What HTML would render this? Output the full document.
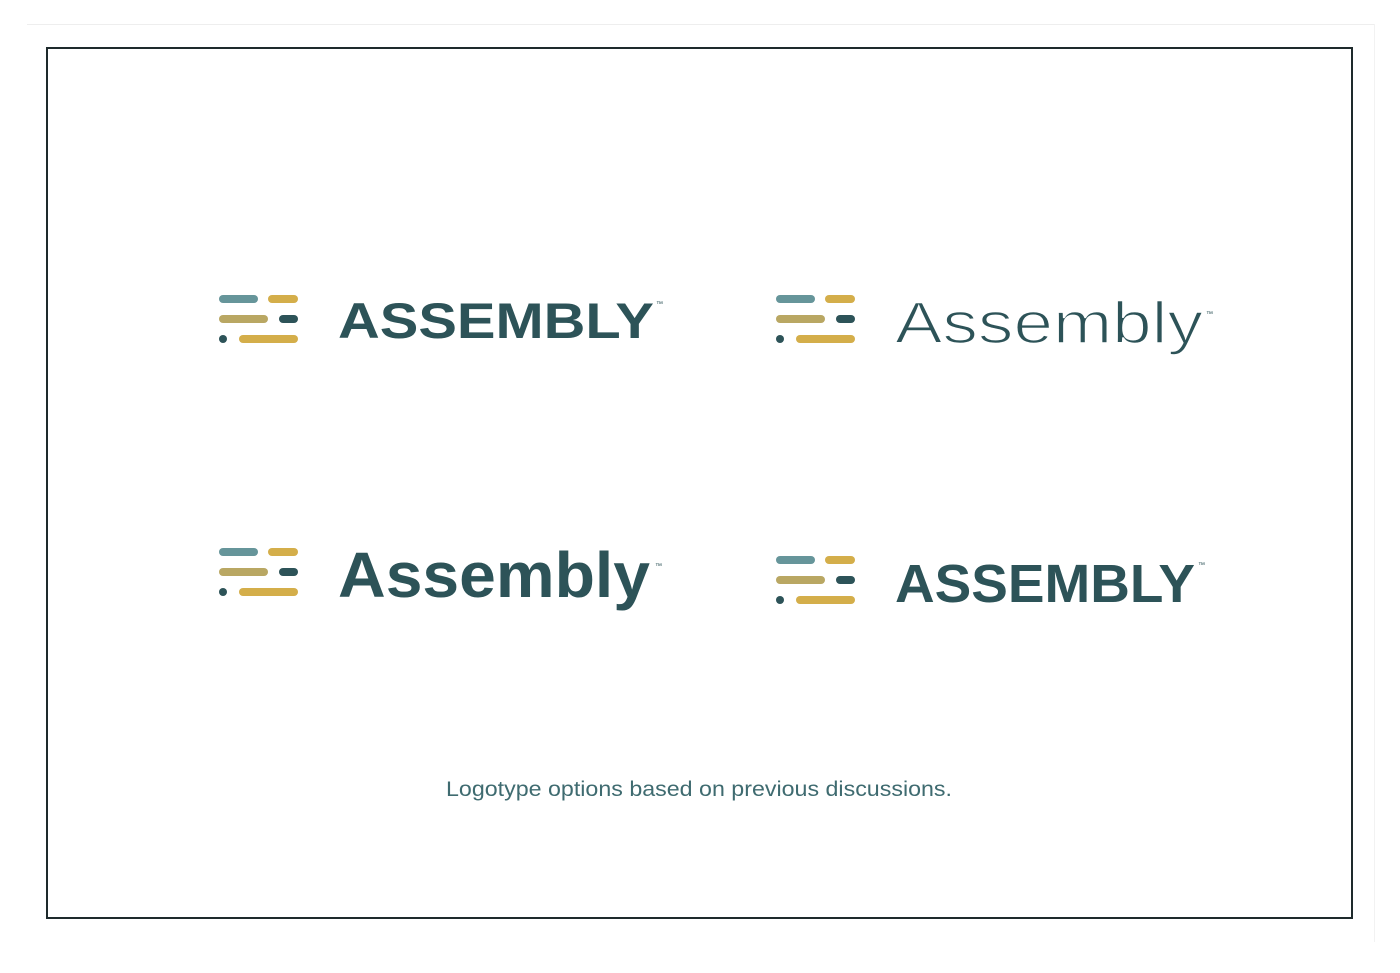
<!DOCTYPE html>
<html><head><style>body{margin:0;background:#fff}</style></head><body>
<svg width="1400" height="968" viewBox="0 0 1400 968" xmlns="http://www.w3.org/2000/svg">
<rect width="1400" height="968" fill="#fff"/>
<line x1="27" y1="24.5" x2="1375" y2="24.5" stroke="#eeeeee" stroke-width="1"/>
<line x1="1374.5" y1="24" x2="1374.5" y2="942" stroke="#f2f2f2" stroke-width="1"/>
<rect x="47" y="48" width="1305" height="870" fill="#fff" stroke="#1e2a2c" stroke-width="2"/>
<defs>
<g id="ic">
<rect x="0" y="0" width="39" height="8" rx="4" fill="#66959a"/>
<rect x="49" y="0" width="30" height="8" rx="4" fill="#d4ae4a"/>
<rect x="0" y="20" width="49" height="8" rx="4" fill="#b9a763"/>
<rect x="60" y="20" width="19" height="8" rx="4" fill="#2d5358"/>
<circle cx="4" cy="44" r="4" fill="#2d5358"/>
<rect x="20" y="40" width="59" height="8" rx="4" fill="#d4ae4a"/>
</g>
</defs>
<use href="#ic" x="219" y="295"/>
<use href="#ic" x="776" y="295"/>
<use href="#ic" x="219" y="548"/>
<use href="#ic" x="776" y="556"/>
<g fill="#2d5358" font-family="Liberation Sans, sans-serif">
<text x="338" y="338" font-size="50" font-weight="bold" textLength="316" lengthAdjust="spacingAndGlyphs">ASSEMBLY</text>
<text x="656" y="306" font-size="7">™</text>
<text x="895" y="343" font-size="58" textLength="308" lengthAdjust="spacingAndGlyphs" stroke="#fff" stroke-width="1.6">Assembly</text>
<text x="1206" y="316" font-size="7">™</text>
<text x="338" y="597" font-size="64" font-weight="bold" textLength="312" lengthAdjust="spacingAndGlyphs">Assembly</text>
<text x="655" y="568" font-size="7">™</text>
<text x="895" y="602" font-size="54" font-weight="bold" textLength="300" lengthAdjust="spacingAndGlyphs">ASSEMBLY</text>
<text x="1198" y="567" font-size="7">™</text>
</g>
<text x="446" y="796" font-family="Liberation Sans, sans-serif" font-size="21" fill="#3f6b70" textLength="506" lengthAdjust="spacingAndGlyphs">Logotype options based on previous discussions.</text>
</svg>
</body></html>
